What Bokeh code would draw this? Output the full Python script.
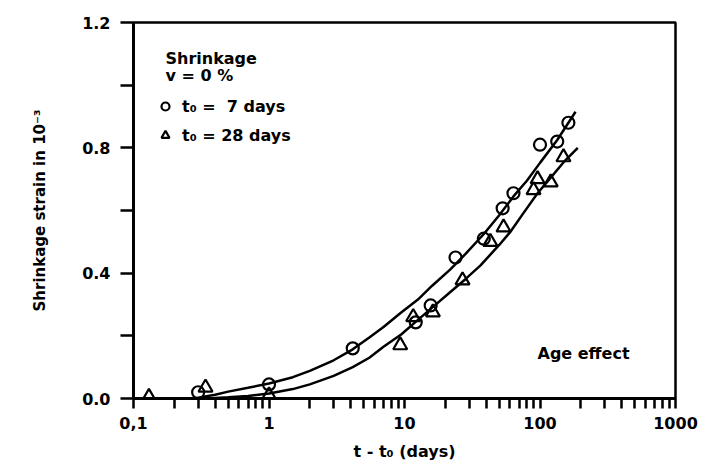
from bokeh.plotting import figure
from bokeh.models import Range1d, FixedTicker, Legend, LegendItem, Label, PrintfTickFormatter
from bokeh.embed import file_html
from bokeh.resources import INLINE

# ---- data ----
t7_x = [0.30, 1.0, 4.15, 12.1, 15.6, 23.8, 38.5, 53.0, 63.7, 100, 134, 162]
t7_y = [0.02, 0.045, 0.16, 0.243, 0.297, 0.45, 0.51, 0.607, 0.655, 0.81, 0.82, 0.88]

t28_x = [0.13, 0.34, 1.0, 9.3, 11.6, 16.2, 26.8, 43, 53.8, 89.6, 96, 120, 149]
t28_y = [0.005, 0.035, 0.01, 0.17, 0.26, 0.275, 0.377, 0.50, 0.546, 0.665, 0.70, 0.69, 0.77]

fit7_x = [0.28, 0.4, 0.5, 0.7, 1.0, 1.5, 2.0, 3.0, 4.15, 5.5, 7.0, 9.5, 12.5, 16,
          21.8, 28, 38.5, 50, 63.7, 80, 100, 134, 183]
fit7_y = [0.0, 0.012, 0.022, 0.034, 0.048, 0.068, 0.088, 0.122, 0.157, 0.195, 0.228,
          0.275, 0.315, 0.36, 0.412, 0.46, 0.525, 0.585, 0.645, 0.695, 0.752, 0.825, 0.915]

fit28_x = [0.35, 0.5, 0.7, 1.0, 1.5, 2.0, 3.0, 4.15, 5.5, 7.0, 9.5, 12.5, 16, 21.8,
           28, 36.4, 50, 60, 75, 95.9, 120, 150, 190]
fit28_y = [0.0, 0.004, 0.008, 0.016, 0.03, 0.045, 0.072, 0.10, 0.13, 0.165, 0.205,
           0.25, 0.29, 0.34, 0.38, 0.425, 0.49, 0.53, 0.59, 0.655, 0.705, 0.755, 0.80]

x_major = [0.1, 1, 10, 100, 1000]
x_minor = [m * d for d in (0.1, 1, 10, 100) for m in range(2, 10)]
x_labels = {0.1: "0,1", 1: "1", 10: "10", 100: "100", 1000: "1000"}
y_major = [0.0, 0.4, 0.8, 1.2]
y_minor = [0.2, 0.6, 1.0]

FONT = "DejaVu Sans"
INK = "black"

p = figure(width=702, height=475, x_axis_type="log",
           x_range=Range1d(0.1, 1000), y_range=Range1d(0, 1.2),
           output_backend="svg", toolbar_location=None,
           min_border_left=133, min_border_right=27,
           min_border_top=22, min_border_bottom=77)

p.grid.visible = False
p.outline_line_color = INK
p.outline_line_width = 2.5
p.background_fill_color = "white"
p.border_fill_color = "white"

for ax in (p.xaxis[0], p.yaxis[0]):
    ax.axis_line_width = 3
    ax.axis_line_color = INK
    ax.major_tick_line_width = 2.5
    ax.minor_tick_line_width = 2.5
    ax.major_tick_line_color = INK
    ax.minor_tick_line_color = INK
    ax.major_tick_in = 0
    ax.minor_tick_in = 0
    ax.major_label_text_font = FONT
    ax.major_label_text_font_style = "bold"
    ax.major_label_text_font_size = "16px"
    ax.major_label_text_color = INK
    ax.axis_label_text_font = FONT
    ax.axis_label_text_font_style = "bold"
    ax.axis_label_text_color = INK

xa = p.xaxis[0]
xa.ticker = FixedTicker(ticks=x_major, minor_ticks=x_minor)
xa.major_label_overrides = x_labels
xa.major_tick_out = 10
xa.minor_tick_out = 10
xa.major_label_standoff = 8
xa.axis_label = "t - t\u2080 (days)"
xa.axis_label_text_font_size = "16px"
xa.axis_label_standoff = 10

ya = p.yaxis[0]
ya.ticker = FixedTicker(ticks=y_major, minor_ticks=y_minor)
ya.formatter = PrintfTickFormatter(format="%.1f")
ya.major_tick_out = 13
ya.minor_tick_out = 13
ya.major_label_standoff = 10
ya.axis_label = "Shrinkage strain in 10\u207b\u00b3"
ya.axis_label_text_font_size = "15px"
ya.axis_label_standoff = 30

p.line(fit7_x, fit7_y, line_color=INK, line_width=2.5)
p.line(fit28_x, fit28_y, line_color=INK, line_width=2.5)

r7 = p.scatter(t7_x, t7_y, marker="circle", size=12, line_color=INK,
               line_width=2.2, fill_alpha=0)
r28 = p.scatter(t28_x, t28_y, marker="triangle", size=14, line_color=INK,
                line_width=2.2, fill_alpha=0)

legend = Legend(items=[LegendItem(label="t\u2080 =  7 days", renderers=[r7]),
                       LegendItem(label="t\u2080 = 28 days", renderers=[r28])],
                location=(22, 253), orientation="vertical",
                glyph_width=20, glyph_height=20, label_height=20,
                spacing=9, padding=0, margin=0, label_standoff=7,
                border_line_color=None, background_fill_alpha=0,
                label_text_font=FONT, label_text_font_style="bold",
                label_text_font_size="16px", label_text_color=INK)
p.add_layout(legend, "center")

for txt, x, y in [("Shrinkage", 32, 340), ("v = 0 %", 32, 323), ("Age effect", 404, 45)]:
    p.add_layout(Label(x=x, y=y, x_units="screen", y_units="screen", text=txt,
                       text_font=FONT, text_font_style="bold", text_color=INK,
                       text_font_size="16px", text_baseline="alphabetic"))

open("out.html", "w").write(file_html(p, INLINE))
